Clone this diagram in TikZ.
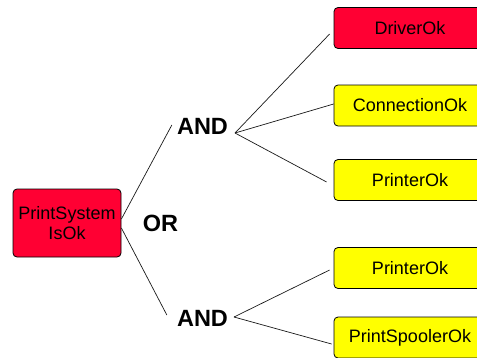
\documentclass[tikz,border=0pt]{standalone}
\usepackage{fontspec}
\setmainfont{Liberation Sans}
\usetikzlibrary{calc}
\definecolor{faultred}{RGB}{255,0,51}
\definecolor{okyellow}{RGB}{255,255,0}
\tikzset{
  event/.style={draw=black, line width=0.8pt, rounded corners=4pt,
    minimum width=152pt, minimum height=41pt, inner sep=0pt,
    font=\fontsize{18}{20}\selectfont, align=center},
  bad/.style={event, fill=faultred},
  good/.style={event, fill=okyellow},
  gate/.style={font=\fontsize{23.5}{26}\selectfont\bfseries, inner sep=0pt},
  link/.style={draw=black!90, line width=0.7pt}
}
\begin{document}
\begin{tikzpicture}[x=1pt, y=-1pt]
  \useasboundingbox (0,0) rectangle (477,357);
  \clip (0,0) rectangle (477,357);

  % top event
  \node[bad, minimum width=108pt, minimum height=68pt] (root) at (67,223) {PrintSystem\\IsOk};
  \node[gate] (or) at (160.5,223) {OR};

  % gates
  \node[gate] (and1) at (202.5,126) {AND};
  \node[gate] (and2) at (202.5,318) {AND};

  % basic events
  \node[bad]  (drv)   at (410,28)    {DriverOk};
  \node[good] (conn)  at (410,105.5) {ConnectionOk};
  \node[good] (prn1)  at (410,180)   {PrinterOk};
  \node[good] (prn2)  at (410,268)   {PrinterOk};
  \node[good] (spool) at (410,337.5) {PrintSpoolerOk};

  % junction points
  \coordinate (j1) at (235,133);
  \coordinate (j2) at (234,317);

  % OR branches
  \draw[link] ($(root.east)+(0,-4)$) -- ($(and1.west)+(-5,-1)$);
  \draw[link] ($(root.east)+(0,5)$) -- ($(and2.west)+(-10,-3)$);

  % AND branches
  \draw[link] (j1) -- ($(drv.west)+(-4,6)$);
  \draw[link] (j1) -- ($(conn.west)+(0,-1.5)$);
  \draw[link] (j1) -- ($(prn1.west)+(-7,2)$);
  \draw[link] (j2) -- ($(prn2.west)+(-4,2)$);
  \draw[link] (j2) -- ($(spool.west)+(-2,6.5)$);
\end{tikzpicture}
\end{document}
